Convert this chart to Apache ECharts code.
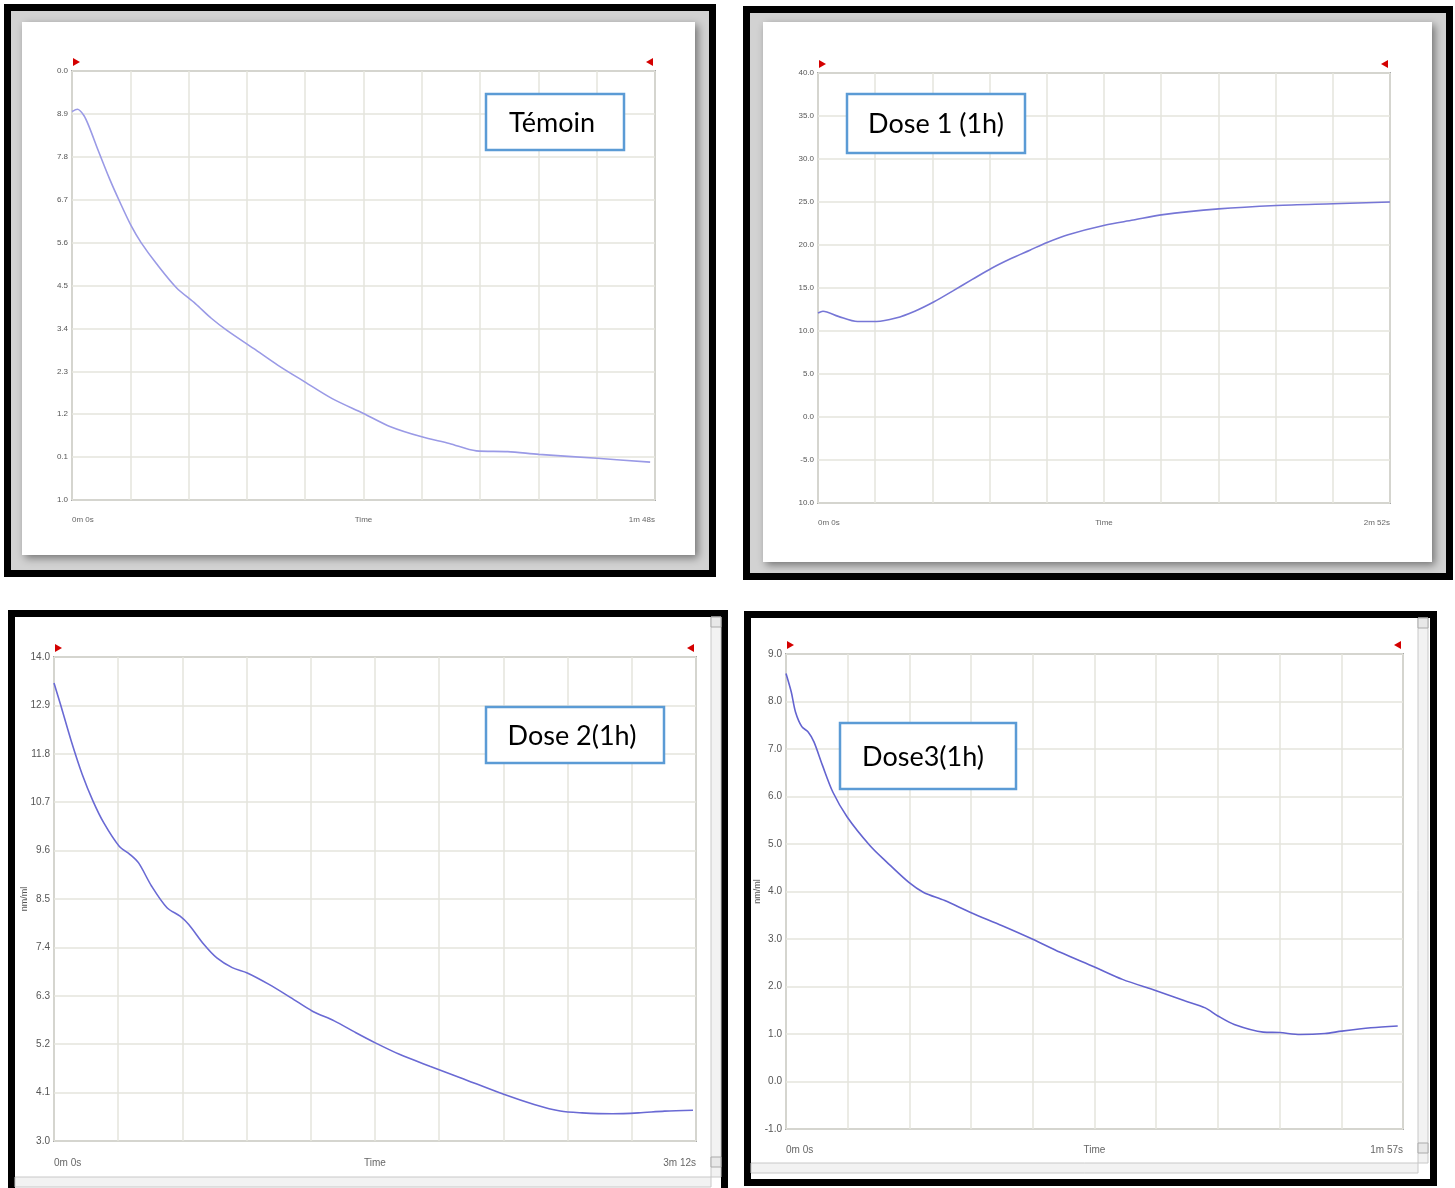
<!DOCTYPE html>
<html><head><meta charset="utf-8">
<script src="https://cdn.jsdelivr.net/npm/echarts@6/dist/echarts.min.js"></script>
<style>html,body{margin:0;padding:0;background:#fff;}#c{width:1455px;height:1188px;}</style>
</head><body><div id="c"></div>
<script>
// ---------- DATA ----------
// Panel 1 : Témoin (time in s, value)
const t1 = [0, 1.0, 2.2, 3.2, 4.8, 7.0, 8.8, 11.0, 12.8, 15.7, 19.3, 22.9, 25.8, 28.7, 33.7, 38.1, 43.1, 48.2, 54.0, 59.0, 64.8, 69.9, 74.9, 80.7, 86.5, 97.3, 107.1];
const v1 = [8.96, 9.02, 8.86, 8.56, 7.98, 7.22, 6.66, 6.02, 5.60, 5.05, 4.45, 4.03, 3.66, 3.35, 2.88, 2.46, 2.03, 1.60, 1.22, 0.88, 0.62, 0.45, 0.26, 0.24, 0.17, 0.07, -0.03];
// Panel 2 : Dose 1 (1h)
const t2 = [0, 1.5, 6.1, 11.9, 17.6, 23.4, 29.1, 34.9, 40.7, 46.4, 52.2, 57.9, 63.7, 68.9, 75.2, 86.2, 94.8, 103.2, 120.5, 137.8, 155.0, 172];
const v2 = [12.1, 12.3, 11.7, 11.1, 11.1, 11.5, 12.3, 13.4, 14.7, 16.0, 17.3, 18.4, 19.4, 20.3, 21.2, 22.3, 22.9, 23.5, 24.2, 24.6, 24.8, 25.0];
// Panel 3 : Dose 2(1h)
const t3 = [0, 1.95, 5.2, 8.45, 11.7, 14.9, 19.5, 22.75, 25.3, 29.2, 33.8, 37.7, 40.3, 44.8, 48.7, 53.3, 57.8, 64.3, 70.8, 77.3, 83.8, 90.3, 96.1, 103.3, 112.4, 121.5, 134.5, 143.6, 151.4, 157.9, 167.0, 174.8, 182.6, 191.1];
const v3 = [13.41, 12.92, 12.08, 11.33, 10.72, 10.23, 9.70, 9.51, 9.32, 8.79, 8.30, 8.11, 7.92, 7.47, 7.16, 6.94, 6.82, 6.56, 6.26, 5.95, 5.73, 5.46, 5.23, 4.97, 4.70, 4.44, 4.06, 3.83, 3.68, 3.64, 3.62, 3.64, 3.68, 3.70];
// Panel 4 : Dose3(1h)
const t4 = [0, 1.0, 1.8, 3.0, 4.2, 5.3, 6.9, 8.9, 11.6, 15.9, 19.1, 23.3, 26.1, 30.1, 35.0, 41.0, 46.7, 52.0, 58.5, 63.8, 70.2, 75.6, 79.5, 81.9, 85.0, 90.5, 93.6, 97.5, 102.2, 105.4, 110.9, 116.0];
const v4 = [8.59, 8.20, 7.78, 7.47, 7.36, 7.15, 6.66, 6.09, 5.57, 4.97, 4.62, 4.19, 3.98, 3.81, 3.56, 3.28, 3.00, 2.72, 2.41, 2.15, 1.91, 1.70, 1.55, 1.38, 1.20, 1.04, 1.03, 0.99, 1.01, 1.06, 1.13, 1.17];

// Tick labels (as printed, bottom to top)
const yLabels1 = ['1.0','0.1','1.2','2.3','3.4','4.5','5.6','6.7','7.8','8.9','0.0'];
const yLabels2 = ['10.0','-5.0','0.0','5.0','10.0','15.0','20.0','25.0','30.0','35.0','40.0'];
const yLabels3 = ['3.0','4.1','5.2','6.3','7.4','8.5','9.6','10.7','11.8','12.9','14.0'];
const yLabels4 = ['-1.0','0.0','1.0','2.0','3.0','4.0','5.0','6.0','7.0','8.0','9.0'];
const xLabels1 = ['0m 0s','1m 48s'];
const xLabels2 = ['0m 0s','2m 52s'];
const xLabels3 = ['0m 0s','3m 12s'];
const xLabels4 = ['0m 0s','1m 57s'];
const titles = ['Témoin','Dose 1 (1h)','Dose 2(1h)','Dose3(1h)'];
const xName = 'Time';
const yName = 'nm/ml';

// ---------- LAYOUT / STYLE ----------
const panels = [
  {t:t1, v:v1, yl:yLabels1, xl:xLabels1, ymin:-1, ymax:10, yint:1.1, xmax:108,
   grid:{left:72, top:71, width:583, height:429}, fs:8, xMargin:16, color:'#9a9ae6', yname:false, yGap:0},
  {t:t2, v:v2, yl:yLabels2, xl:xLabels2, ymin:-10, ymax:40, yint:5, xmax:172,
   grid:{left:818, top:73, width:572, height:430}, fs:8, xMargin:16, color:'#7676d6', yname:false, yGap:0},
  {t:t3, v:v3, yl:yLabels3, xl:xLabels3, ymin:3, ymax:14, yint:1.1, xmax:192,
   grid:{left:54, top:657, width:642, height:484}, fs:10, xMargin:17, color:'#6a6ad4', yname:true, yGap:25},
  {t:t4, v:v4, yl:yLabels4, xl:xLabels4, ymin:-1, ymax:9, yint:1, xmax:117,
   grid:{left:786, top:654, width:617, height:475}, fs:10, xMargin:16, color:'#6464d0', yname:true, yGap:24}
];

const labelFont = '"Liberation Sans Narrow","Arial Narrow","Liberation Sans",sans-serif';

const grids = [], xAxes = [], yAxes = [], series = [];
panels.forEach((p, i) => {
  grids.push(Object.assign({show:true, borderColor:'#a9a9a9', borderWidth:2, backgroundColor:'transparent', containLabel:false}, p.grid));
  const xint = p.xmax / 10;
  xAxes.push({
    type:'value', gridIndex:i, min:0, max:p.xmax, interval:xint,
    name:xName, nameLocation:'middle', nameGap:p.xMargin, nameMoveOverlap:false,
    nameTextStyle:{color:'#666', fontSize:p.fs, fontFamily:labelFont, verticalAlign:'top'},
    axisLine:{show:false}, axisTick:{show:false},
    axisLabel:{show:true, margin:p.xMargin, fontSize:p.fs, color:'#666', fontFamily:labelFont,
      showMinLabel:true, showMaxLabel:true, alignMinLabel:'left', alignMaxLabel:'right',
      formatter:(val)=> Math.abs(val) < 1e-6 ? p.xl[0] : (Math.abs(val - p.xmax) < 1e-6 ? p.xl[1] : '')},
    splitLine:{show:true, lineStyle:{color:'#e5e5dc', width:1.5}}
  });
  yAxes.push({
    type:'value', gridIndex:i, min:p.ymin, max:p.ymax, interval:p.yint,
    name: p.yname ? yName : '', nameLocation:'middle', nameGap:p.yGap, nameMoveOverlap:false,
    nameTextStyle:{color:'#555', fontSize:9, fontFamily:labelFont},
    axisLine:{show:false}, axisTick:{show:false},
    axisLabel:{show:true, margin:4, fontSize:p.fs, color:'#555', fontFamily:labelFont,
      formatter:(val)=> p.yl[Math.round((val - p.ymin) / p.yint)] || ''},
    splitLine:{show:true, lineStyle:{color:'#e5e5dc', width:1.5}}
  });
  series.push({
    type:'line', xAxisIndex:i, yAxisIndex:i, showSymbol:false, smooth:0.3,
    data:p.t.map((x, k)=>[x, p.v[k]]),
    lineStyle:{color:p.color, width:1.6}, itemStyle:{color:p.color}, z:5
  });
});

// ---------- DECORATION ----------
const g = [];
function rect(x,y,w,h,style,z){ g.push({type:'rect', shape:{x,y,width:w,height:h}, style, z:z||-10, silent:true}); }
// Panel frames
rect(4,4,712,573,{fill:'#000'},-20);
rect(11,11,698,559,{fill:'#d2d2d2'},-19);
rect(22,22,673,533,{fill:'#fff', shadowBlur:8, shadowColor:'rgba(0,0,0,0.45)', shadowOffsetX:3, shadowOffsetY:3},-18);
rect(743,6,710,574,{fill:'#000'},-20);
rect(750,13,696,560,{fill:'#d2d2d2'},-19);
rect(763,22,669,540,{fill:'#fff', shadowBlur:8, shadowColor:'rgba(0,0,0,0.45)', shadowOffsetX:3, shadowOffsetY:3},-18);
rect(8,610,720,590,{fill:'#000'},-20);
rect(15,617,706,580,{fill:'#fff'},-19);
rect(744,611,693,575,{fill:'#000'},-20);
rect(751,618,679,561,{fill:'#fff'},-19);
// scrollbars
rect(711,617,10,560,{fill:'#f2f2f2', stroke:'#c8c8c8', lineWidth:1},-17);
rect(711,617,10,10,{fill:'#e8e8e8', stroke:'#aaa', lineWidth:1},-16);
rect(711,1157,10,10,{fill:'#e8e8e8', stroke:'#aaa', lineWidth:1},-16);
rect(15,1177,696,10,{fill:'#f2f2f2', stroke:'#c8c8c8', lineWidth:1},-17);
rect(1418,618,10,545,{fill:'#f2f2f2', stroke:'#c8c8c8', lineWidth:1},-17);
rect(1418,618,10,10,{fill:'#e8e8e8', stroke:'#aaa', lineWidth:1},-16);
rect(1418,1143,10,10,{fill:'#e8e8e8', stroke:'#aaa', lineWidth:1},-16);
rect(751,1163,667,10,{fill:'#f2f2f2', stroke:'#c8c8c8', lineWidth:1},-17);

// red range markers above each plot
panels.forEach(p => {
  const L = p.grid.left, T = p.grid.top, R = p.grid.left + p.grid.width;
  g.push({type:'polygon', shape:{points:[[L+1,T-13],[L+8,T-9],[L+1,T-5]]}, style:{fill:'#d40000'}, z:50, silent:true});
  g.push({type:'polygon', shape:{points:[[R-2,T-13],[R-9,T-9],[R-2,T-5]]}, style:{fill:'#d40000'}, z:50, silent:true});
});

// annotation boxes
const boxes = [
  {x:486, y:94, w:138, h:56, cx:552},
  {x:847, y:94, w:178, h:59, cx:936},
  {x:486, y:707, w:178, h:56, cx:572},
  {x:840, y:723, w:176, h:66, cx:923}
];
boxes.forEach((b, i) => {
  rect(b.x, b.y, b.w, b.h, {fill:'#fff', stroke:'#5b9bd5', lineWidth:2.5}, 60);
  g.push({type:'text', x:b.cx, y:b.y + b.h/2 + 1, z:61, silent:true,
    style:{text:titles[i], fill:'#000', font:'27px Lato, "Open Sans", sans-serif', align:'center', verticalAlign:'middle'}});
});

const chart = echarts.init(document.getElementById('c'), null, {renderer:'canvas'});
chart.setOption({
  animation:false,
  backgroundColor:'#fff',
  grid:grids, xAxis:xAxes, yAxis:yAxes, series:series,
  graphic:{elements:g}
});
</script></body></html>
